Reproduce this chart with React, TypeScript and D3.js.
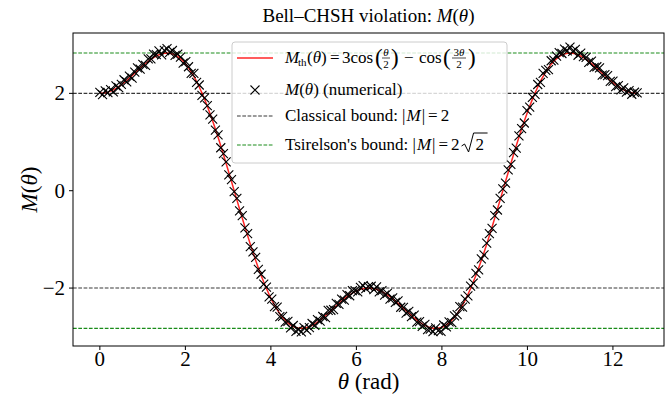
import React, { useLayoutEffect, useRef, useState } from 'react';
import * as d3 from 'd3';

// sample grid: 201 points on [0, 4π]
const thetaStart = 0;
const thetaEnd = 12.566;
const sampleCount = 201;

// theoretical curve
const theoryValues = [
  2.000, 2.003, 2.012, 2.026, 2.047, 2.072, 2.103, 2.138, 2.177, 2.220,
  2.265, 2.314, 2.364, 2.415, 2.466, 2.517, 2.566, 2.614, 2.658, 2.699,
  2.736, 2.768, 2.793, 2.812, 2.824, 2.828, 2.824, 2.811, 2.789, 2.756,
  2.714, 2.662, 2.600, 2.527, 2.443, 2.350, 2.246, 2.132, 2.009, 1.877,
  1.736, 1.587, 1.431, 1.267, 1.098, 0.923, 0.744, 0.561, 0.376, 0.188,
  0.000, -0.188, -0.376, -0.561, -0.744, -0.923, -1.098, -1.267, -1.431, -1.587,
  -1.736, -1.877, -2.009, -2.132, -2.246, -2.350, -2.443, -2.527, -2.600, -2.662,
  -2.714, -2.756, -2.789, -2.811, -2.824, -2.828, -2.824, -2.812, -2.793, -2.768,
  -2.736, -2.699, -2.658, -2.614, -2.566, -2.517, -2.466, -2.415, -2.364, -2.314,
  -2.265, -2.220, -2.177, -2.138, -2.103, -2.072, -2.047, -2.026, -2.012, -2.003,
  -2.000, -2.003, -2.012, -2.026, -2.047, -2.072, -2.103, -2.138, -2.177, -2.220,
  -2.265, -2.314, -2.364, -2.415, -2.466, -2.517, -2.566, -2.614, -2.658, -2.699,
  -2.736, -2.768, -2.793, -2.812, -2.824, -2.828, -2.824, -2.811, -2.789, -2.756,
  -2.714, -2.662, -2.600, -2.527, -2.443, -2.350, -2.246, -2.132, -2.009, -1.877,
  -1.736, -1.587, -1.431, -1.267, -1.098, -0.923, -0.744, -0.561, -0.376, -0.188,
  0.000, 0.188, 0.376, 0.561, 0.744, 0.923, 1.098, 1.267, 1.431, 1.587,
  1.736, 1.877, 2.009, 2.132, 2.246, 2.350, 2.443, 2.527, 2.600, 2.662,
  2.714, 2.756, 2.789, 2.811, 2.824, 2.828, 2.824, 2.812, 2.793, 2.768,
  2.736, 2.699, 2.658, 2.614, 2.566, 2.517, 2.466, 2.415, 2.364, 2.314,
  2.265, 2.220, 2.177, 2.138, 2.103, 2.072, 2.047, 2.026, 2.012, 2.003,
  2.000,
];

// numerical points (x markers), slightly scattered around the curve
const numericalValues = [
  2.020, 1.973, 2.052, 2.016, 2.077, 2.032, 2.153, 2.118, 2.187, 2.280,
  2.235, 2.354, 2.314, 2.435, 2.526, 2.497, 2.596, 2.574, 2.708, 2.709,
  2.806, 2.798, 2.873, 2.792, 2.884, 2.918, 2.844, 2.881, 2.779, 2.806,
  2.744, 2.622, 2.650, 2.547, 2.413, 2.410, 2.226, 2.172, 1.959, 1.907,
  1.746, 1.557, 1.471, 1.247, 1.148, 0.883, 0.764, 0.591, 0.326, 0.228,
  -0.020, -0.158, -0.416, -0.511, -0.764, -0.883, -1.148, -1.257, -1.371, -1.617,
  -1.716, -1.917, -1.979, -2.182, -2.226, -2.380, -2.393, -2.587, -2.580, -2.702,
  -2.684, -2.816, -2.769, -2.891, -2.854, -2.898, -2.814, -2.862, -2.813, -2.728,
  -2.766, -2.649, -2.678, -2.584, -2.606, -2.457, -2.456, -2.445, -2.314, -2.334,
  -2.225, -2.250, -2.137, -2.158, -2.053, -2.052, -2.077, -1.986, -1.952, -2.013,
  -1.970, -1.963, -2.032, -1.976, -2.077, -2.052, -2.143, -2.108, -2.227, -2.200,
  -2.295, -2.264, -2.394, -2.395, -2.516, -2.477, -2.586, -2.554, -2.698, -2.689,
  -2.786, -2.748, -2.853, -2.842, -2.894, -2.818, -2.874, -2.891, -2.759, -2.796,
  -2.694, -2.712, -2.570, -2.547, -2.383, -2.390, -2.226, -2.162, -1.959, -1.897,
  -1.696, -1.627, -1.401, -1.317, -1.078, -0.883, -0.774, -0.511, -0.396, -0.158,
  0.040, 0.158, 0.426, 0.541, 0.784, 0.873, 1.128, 1.277, 1.391, 1.647,
  1.716, 1.917, 1.979, 2.182, 2.226, 2.410, 2.473, 2.487, 2.670, 2.682,
  2.764, 2.836, 2.819, 2.911, 2.874, 2.948, 2.864, 2.902, 2.783, 2.828,
  2.756, 2.739, 2.638, 2.664, 2.536, 2.547, 2.526, 2.375, 2.384, 2.364,
  2.245, 2.250, 2.137, 2.158, 2.073, 2.112, 2.027, 2.056, 1.982, 2.023,
  2.010,
];

const xTicks = [0, 2, 4, 6, 8, 10, 12];
const yTicks = [-2, 0, 2];
const classicalBound = 2;
const tsirelsonBound = 2.828;

const W = 672;
const H = 403;
const margin = { top: 33, right: 8, bottom: 57, left: 73 };
const FONT = '"Liberation Serif", "Times New Roman", "DejaVu Serif", serif';

const fmt = (v: number) => (v < 0 ? '\u2212' + Math.abs(v) : String(v));

const App = () => {
  const tsRef = useRef<SVGTextElement>(null);
  const [tsEnd, setTsEnd] = useState(470);

  useLayoutEffect(() => {
    if (tsRef.current) {
      const b = tsRef.current.getBBox();
      setTsEnd(b.x + b.width);
    }
  }, []);

  const thetas = d3.range(sampleCount).map(
    (i) => thetaStart + (i * (thetaEnd - thetaStart)) / (sampleCount - 1)
  );

  const xPad = (thetaEnd - thetaStart) * 0.05;
  const x = d3
    .scaleLinear()
    .domain([thetaStart - xPad, thetaEnd + xPad])
    .range([margin.left, W - margin.right]);

  const allY = theoryValues.concat(numericalValues);
  const yMin = d3.min(allY) as number;
  const yMax = d3.max(allY) as number;
  const yPad = (yMax - yMin) * 0.05;
  const y = d3
    .scaleLinear()
    .domain([yMin - yPad, yMax + yPad])
    .range([H - margin.bottom, margin.top]);

  const line = d3
    .line<number>()
    .x((d, i) => x(thetas[i]))
    .y((d) => y(d));

  const x0 = x.range()[0];
  const x1 = x.range()[1];
  const yTop = y.range()[1];
  const yBot = y.range()[0];

  const hLine = (v: number, color: string, key: string) => (
    <line
      key={key}
      x1={x0}
      x2={x1}
      y1={y(v)}
      y2={y(v)}
      stroke={color}
      strokeWidth={1.1}
      strokeOpacity={0.9}
      strokeDasharray="3.7,1.6"
    />
  );

  const mk = 4.5; // half size of x marker
  const cross = (cx: number, cy: number) =>
    `M${cx - mk},${cy - mk}L${cx + mk},${cy + mk}M${cx - mk},${cy + mk}L${cx + mk},${cy - mk}`;

  // legend geometry
  const lg = { x: 232, y: 42, w: 275, h: 121 };
  const rows = [58, 90, 116, 145];
  const sx0 = 237;
  const sx1 = 273;
  const tx = 285;
  const r0 = rows[0];

  return (
    <svg
      width={W}
      height={H}
      style={{ position: 'absolute', left: 0, top: 0, background: '#fff' }}
      fontFamily={FONT}
    >
      {/* bounds */}
      {hLine(tsirelsonBound, '#008000', 'gt')}
      {hLine(-tsirelsonBound, '#008000', 'gb')}
      {hLine(classicalBound, '#222', 'ct')}
      {hLine(-classicalBound, '#222', 'cb')}

      {/* theory curve */}
      <path
        d={line(theoryValues) || ''}
        fill="none"
        stroke="#ff0000"
        strokeOpacity={0.85}
        strokeWidth={1.5}
      />

      {/* numerical markers */}
      <g stroke="#000" strokeWidth={1.1}>
        {numericalValues.map((v, i) => (
          <path key={i} d={cross(x(thetas[i]), y(v))} />
        ))}
      </g>

      {/* frame */}
      <rect
        x={x0}
        y={yTop}
        width={x1 - x0}
        height={yBot - yTop}
        fill="none"
        stroke="#000"
        strokeWidth={1}
      />

      {/* x ticks */}
      {xTicks.map((t) => (
        <g key={'xt' + t}>
          <line x1={x(t)} x2={x(t)} y1={yBot} y2={yBot + 4} stroke="#000" />
          <text x={x(t)} y={yBot + 20} fontSize={21} textAnchor="middle">
            {fmt(t)}
          </text>
        </g>
      ))}

      {/* y ticks */}
      {yTicks.map((t) => (
        <g key={'yt' + t}>
          <line x1={x0 - 4} x2={x0} y1={y(t)} y2={y(t)} stroke="#000" />
          <text x={x0 - 8} y={y(t) + 7} fontSize={21} textAnchor="end">
            {fmt(t)}
          </text>
        </g>
      ))}

      {/* axis labels */}
      <text x={(x0 + x1) / 2} y={389} fontSize={23} textAnchor="middle">
        <tspan fontStyle="italic">θ</tspan> (rad)
      </text>
      <text
        transform={`translate(37,${(yTop + yBot) / 2}) rotate(-90)`}
        fontSize={23}
        textAnchor="middle"
      >
        <tspan fontStyle="italic">M</tspan>(<tspan fontStyle="italic">θ</tspan>)
      </text>

      {/* title */}
      <text x={(x0 + x1) / 2} y={22} fontSize={19} textAnchor="middle">
        Bell–CHSH violation: <tspan fontStyle="italic">M</tspan>(<tspan fontStyle="italic">θ</tspan>)
      </text>

      {/* legend */}
      <rect
        x={lg.x}
        y={lg.y}
        width={lg.w}
        height={lg.h}
        rx={3}
        fill="#fff"
        fillOpacity={0.8}
        stroke="#ccc"
        strokeWidth={1}
      />
      <line x1={sx0} x2={sx1} y1={r0} y2={r0} stroke="#ff0000" strokeOpacity={0.85} strokeWidth={1.5} />
      <g fontSize={17}>
        <text x={tx} y={r0 + 5} fontStyle="italic">M</text>
        <text x={tx + 13} y={r0 + 8} fontSize={11}>th</text>
        <text x={tx + 22} y={r0 + 5}>
          (<tspan fontStyle="italic">θ</tspan>)
        </text>
        <text x={tx + 45} y={r0 + 5}>=</text>
        <text x={tx + 57} y={r0 + 5}>3cos</text>
        <text x={tx + 90} y={r0 + 7} fontSize={23}>(</text>
        <text x={tx + 101} y={r0 - 2} fontSize={11} fontStyle="italic" textAnchor="middle">θ</text>
        <line x1={tx + 97} x2={tx + 105} y1={r0} y2={r0} stroke="#000" strokeWidth={0.7} />
        <text x={tx + 101} y={r0 + 10} fontSize={11} textAnchor="middle">2</text>
        <text x={tx + 106} y={r0 + 7} fontSize={23}>)</text>
        <text x={tx + 119} y={r0 + 5}>−</text>
        <text x={tx + 134} y={r0 + 5}>cos</text>
        <text x={tx + 158} y={r0 + 7} fontSize={23}>(</text>
        <text x={tx + 174} y={r0 - 2} fontSize={11} textAnchor="middle">
          3<tspan fontStyle="italic">θ</tspan>
        </text>
        <line x1={tx + 167} x2={tx + 181} y1={r0} y2={r0} stroke="#000" strokeWidth={0.7} />
        <text x={tx + 174} y={r0 + 10} fontSize={11} textAnchor="middle">2</text>
        <text x={tx + 183} y={r0 + 7} fontSize={23}>)</text>
      </g>

      <g fontSize={17}>
        <path d={cross((sx0 + sx1) / 2, rows[1])} stroke="#000" strokeWidth={1.1} />
        <text x={tx} y={rows[1] + 5}>
          <tspan fontStyle="italic">M</tspan>(<tspan fontStyle="italic">θ</tspan>) (numerical)
        </text>

        <line x1={sx0} x2={sx1} y1={rows[2]} y2={rows[2]} stroke="#222" strokeOpacity={0.9} strokeDasharray="3.7,1.6" />
        <text x={tx} y={rows[2] + 5}>
          Classical bound: |<tspan fontStyle="italic" dx={1}>M</tspan>
          <tspan dx={1}>|</tspan>
          <tspan dx={3}>=</tspan>
          <tspan dx={3}>2</tspan>
        </text>

        <line x1={sx0} x2={sx1} y1={rows[3]} y2={rows[3]} stroke="#008000" strokeOpacity={0.9} strokeDasharray="3.7,1.6" />
        <text ref={tsRef} x={tx} y={rows[3] + 5}>
          Tsirelson's bound: |<tspan fontStyle="italic" dx={1}>M</tspan>
          <tspan dx={1}>|</tspan>
          <tspan dx={3}>=</tspan>
          <tspan dx={3}>2</tspan>
        </text>
        <path
          d={`M${tsEnd + 2},${rows[3] + 1}L${tsEnd + 5},${rows[3] - 1}L${tsEnd + 9},${rows[3] + 7}L${tsEnd + 14},${rows[3] - 12}L${tsEnd + 28},${rows[3] - 12}`}
          fill="none"
          stroke="#000"
          strokeWidth={1}
        />
        <text x={tsEnd + 16} y={rows[3] + 5}>2</text>
      </g>
    </svg>
  );
};

export default App;
